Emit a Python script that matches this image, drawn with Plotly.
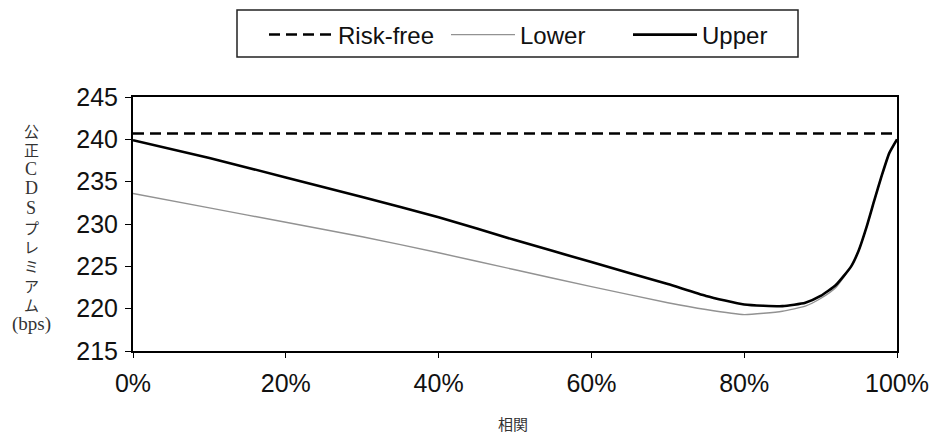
import plotly.graph_objects as go

correlation = [0, 10, 20, 30, 40, 50, 60, 70, 75, 80, 85, 88, 90, 92, 94, 95, 96, 97, 98, 99, 100]
upper = [239.9, 237.8, 235.5, 233.2, 230.8, 228.1, 225.5, 222.9, 221.5, 220.5, 220.3, 220.7,
         221.5, 222.8, 225.0, 226.9, 229.6, 232.7, 235.7, 238.4, 240.0]
lower = [233.6, 231.9, 230.2, 228.5, 226.6, 224.6, 222.6, 220.7, 219.9, 219.3, 219.7, 220.3,
         221.2, 222.5, 225.0, 226.9, 229.6, 232.7, 235.7, 238.4, 240.0]
risk_free_x = [0, 100]
risk_free = [240.7, 240.7]

y_ticks = [215, 220, 225, 230, 235, 240, 245]
x_ticks = [0, 20, 40, 60, 80, 100]
x_tick_labels = ["0%", "20%", "40%", "60%", "80%", "100%"]
y_title_chars = ["公", "正", "C", "D", "S", "プ", "レ", "ミ", "ア", "ム", "(bps)"]
x_title = "相関"

FONT = "Liberation Sans"
JP = "Noto Sans CJK JP"
SERIF = "Liberation Serif"

W, H = 931, 435
L, R, T, B = 133, 34, 97, 84
PW, PH = W - L - R, H - T - B


def px_x(page_x):
    return (page_x - L) / PW


def px_y(page_y):
    return 1 - (page_y - T) / PH


fig = go.Figure()
fig.add_trace(go.Scatter(x=risk_free_x, y=risk_free, mode="lines", name="Risk-free",
                         line=dict(color="black", width=2.5, dash="11px,6px")))
fig.add_trace(go.Scatter(x=correlation, y=lower, mode="lines", name="Lower",
                         line=dict(color="#929292", width=1.4, shape="spline", smoothing=0.5)))
fig.add_trace(go.Scatter(x=correlation, y=upper, mode="lines", name="Upper",
                         line=dict(color="black", width=2.6, shape="spline", smoothing=0.5)))

annotations = []
y0, step = 130, 19.4
for i, ch in enumerate(y_title_chars):
    if ch.isascii():
        f = dict(size=19 if len(ch) > 1 else 18, family=SERIF, color="#333")
    else:
        f = dict(size=15, family=JP, color="#333")
    annotations.append(dict(text=ch, xref="paper", yref="paper", x=px_x(31), y=px_y(y0 + i * step),
                            xanchor="center", yanchor="middle", showarrow=False, font=f))
annotations.append(dict(text=x_title, xref="paper", yref="paper", x=px_x(513), y=px_y(423),
                        xanchor="center", yanchor="middle", showarrow=False,
                        font=dict(size=15, family=JP, color="#333")))

fig.update_layout(
    width=W, height=H,
    margin=dict(l=L, r=R, t=T, b=B, autoexpand=False),
    paper_bgcolor="white", plot_bgcolor="white",
    font=dict(family=FONT, size=24, color="#111"),
    showlegend=True,
    legend=dict(orientation="h", x=px_x(264), xanchor="left", y=px_y(35), yanchor="middle",
                borderwidth=0, bgcolor="rgba(0,0,0,0)", font=dict(size=24, family=FONT),
                entrywidth=103, entrywidthmode="pixels", itemwidth=64),
    xaxis=dict(range=[0, 100], tickvals=x_ticks, ticktext=x_tick_labels, showgrid=False,
               zeroline=False, showline=True, linecolor="black", linewidth=1.6, mirror=True,
               ticks="outside", ticklen=5, tickcolor="black", ticklabelstandoff=4,
               tickfont=dict(size=25, family=FONT)),
    yaxis=dict(range=[215, 245], tickvals=y_ticks, showgrid=False, zeroline=False,
               showline=True, linecolor="black", linewidth=2, mirror=True,
               ticks="outside", ticklen=6, tickcolor="black", ticklabelstandoff=2,
               tickfont=dict(size=25, family=FONT)),
    shapes=[dict(type="rect", xref="paper", yref="paper",
                 x0=px_x(237), x1=px_x(798), y0=px_y(57), y1=px_y(10),
                 line=dict(color="#222", width=1.5), fillcolor="rgba(0,0,0,0)")],
    annotations=annotations,
)

fig.write_html("out.html", config={"displayModeBar": False},
               post_script="document.body.style.margin='0';")
